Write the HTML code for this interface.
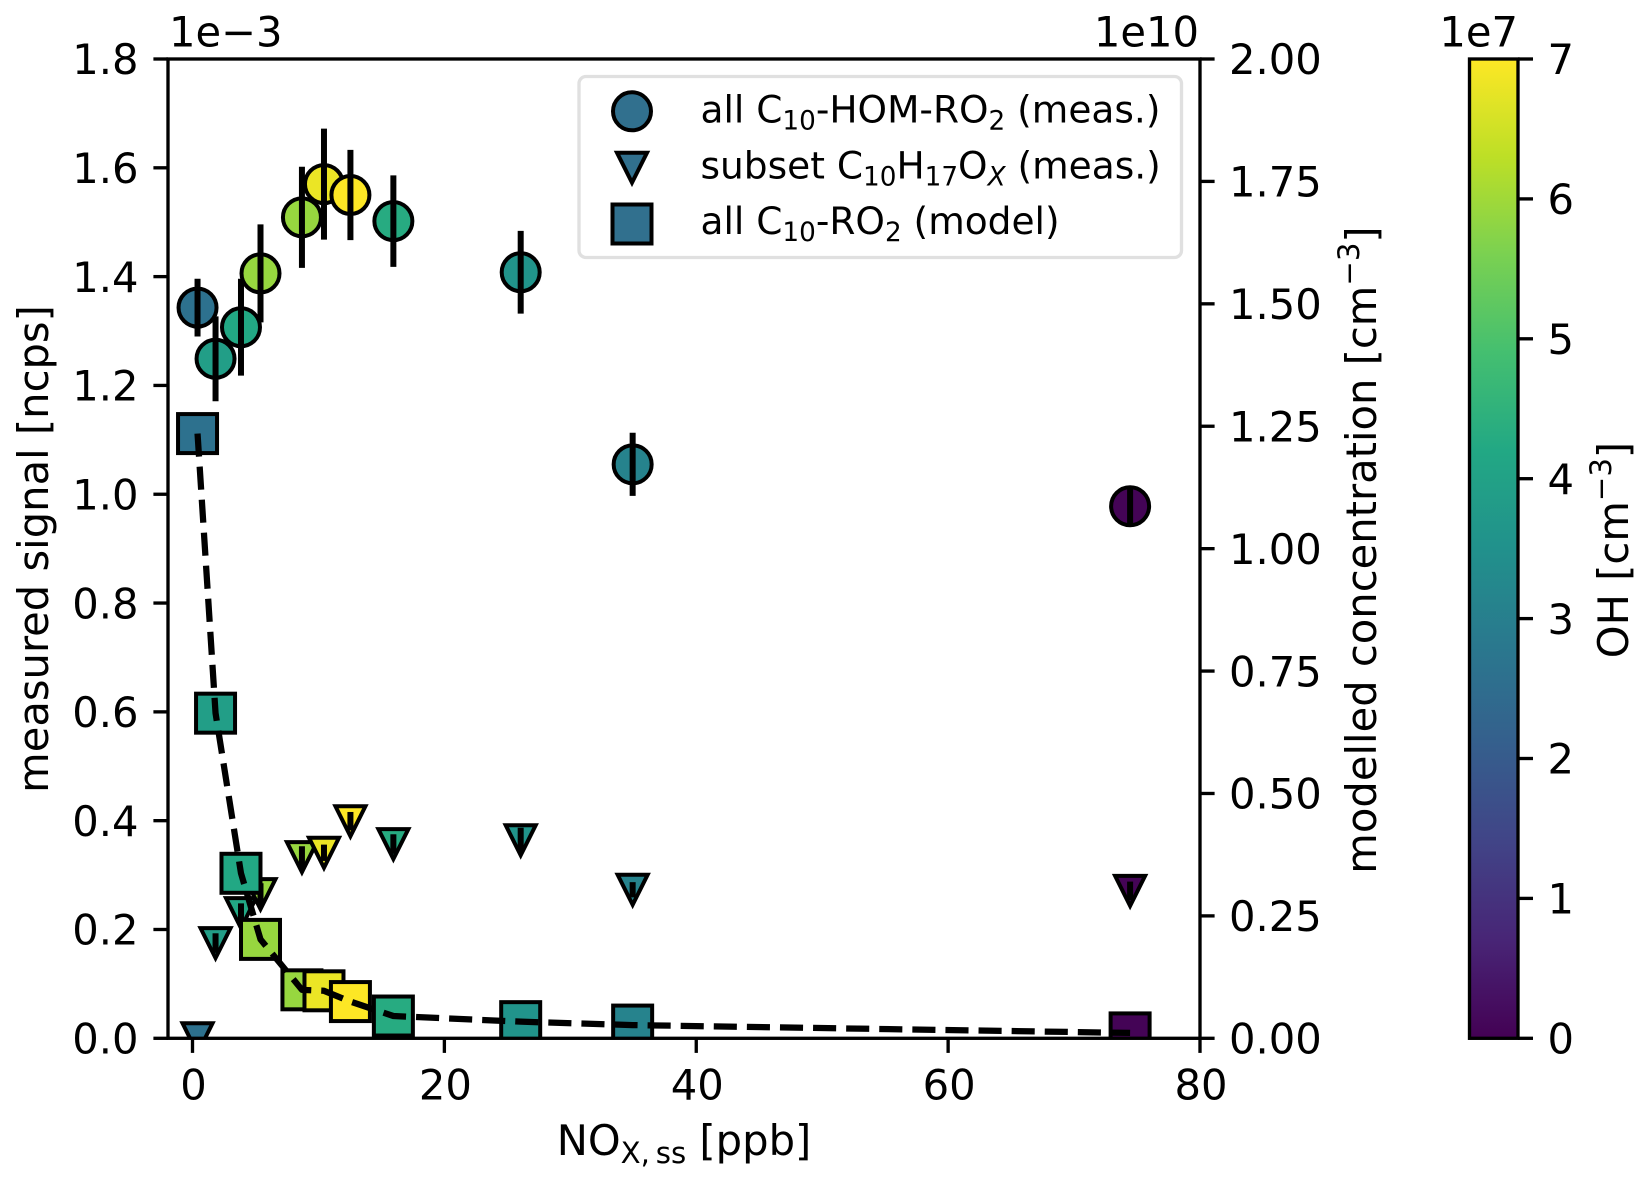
<!DOCTYPE html>
<html lang="en">
<head>
<meta charset="utf-8">
<title>Measured and modelled C10 RO2 versus NOx</title>
<style>
html,body{margin:0;padding:0;background:#fff;}
svg{display:block;}
text{font-family:"DejaVu Sans","Liberation Sans",sans-serif;font-size:41.67px;fill:#000;}
text.legend-text{font-size:37.5px;}
</style>
</head>
<body>
<svg id="chart" xmlns="http://www.w3.org/2000/svg" width="1650" height="1183" viewBox="0 0 1650 1183">
  <defs>
    <clipPath id="plot-clip"><rect x="168" y="59" width="1032" height="979.3"/></clipPath>
    <linearGradient id="viridis-gradient" x1="0" y1="1" x2="0" y2="0">
      <stop offset="0" stop-color="#440154"/><stop offset="0.1" stop-color="#482576"/>
      <stop offset="0.2" stop-color="#414487"/><stop offset="0.3" stop-color="#355f8d"/>
      <stop offset="0.4" stop-color="#2a788e"/><stop offset="0.5" stop-color="#21918c"/>
      <stop offset="0.6" stop-color="#22a884"/><stop offset="0.7" stop-color="#44bf70"/>
      <stop offset="0.8" stop-color="#7ad151"/><stop offset="0.9" stop-color="#bddf26"/>
      <stop offset="1" stop-color="#fde725"/>
    </linearGradient>
  </defs>
  <rect x="0" y="0" width="1650" height="1183" fill="#fff"/>
  <g id="marks" clip-path="url(#plot-clip)"></g>
  <g id="axes"></g>

  <text x="169" y="46.7">1e−3</text>
  <text x="1199" y="46.7" text-anchor="end">1e10</text>
  <text x="1518" y="46.7" text-anchor="end">1e7</text>

  <text transform="translate(48,549) rotate(-90)" text-anchor="middle">measured signal [ncps]</text>
  <text transform="translate(1376,550) rotate(-90)" text-anchor="middle">modelled concentration [cm<tspan dy="-17" font-size="29.2">−3</tspan><tspan dy="17">]</tspan></text>
  <text x="684" y="1155" text-anchor="middle">NO<tspan dy="8" font-size="29.2">X,&#8201;ss</tspan><tspan dy="-8"> [ppb]</tspan></text>
  <text transform="translate(1628,550) rotate(-90)" text-anchor="middle">OH [cm<tspan dy="-17" font-size="29.2">−3</tspan><tspan dy="17">]</tspan></text>

  <g>
    <rect x="579" y="76.5" width="602.5" height="181" rx="7" ry="7" fill="#fff" fill-opacity="0.8" stroke="#e0e0e0" stroke-width="3.33"/>
    <circle cx="632" cy="111.3" r="19" fill="#31708e" stroke="#000" stroke-width="4"/>
    <path d="M617,152.7 L647,152.7 L632,182.7 Z" fill="#31708e" stroke="#000" stroke-width="4"/>
    <rect x="612.5" y="204.5" width="39" height="39" fill="#31708e" stroke="#000" stroke-width="4"/>
    <text class="legend-text" x="700.5" y="122.3">all C<tspan dy="7" font-size="26.25">10</tspan><tspan dy="-7">-HOM-RO</tspan><tspan dy="7" font-size="26.25">2</tspan><tspan dy="-7"> (meas.)</tspan></text>
    <text class="legend-text" x="700.5" y="178.3">subset C<tspan dy="7" font-size="26.25">10</tspan><tspan dy="-7">H</tspan><tspan dy="7" font-size="26.25">17</tspan><tspan dy="-7">O</tspan><tspan dy="7" font-size="26.25" font-style="italic">X</tspan><tspan dy="-7"> (meas.)</tspan></text>
    <text class="legend-text" x="700.5" y="234">all C<tspan dy="7" font-size="26.25">10</tspan><tspan dy="-7">-RO</tspan><tspan dy="7" font-size="26.25">2</tspan><tspan dy="-7"> (model)</tspan></text>
  </g>

  <g>
    <rect x="1469.5" y="59" width="48.5" height="979.3" fill="url(#viridis-gradient)" stroke="#000" stroke-width="3.33"/>
  </g>
  <g id="colorbar-ticks"></g>
</svg>

<script>
// Data
const noxPpb = [0.4, 1.83, 3.85, 5.4, 8.69, 10.44, 12.54, 15.95, 26.06, 34.95, 74.45];
const ohConc = [2.6, 3.9, 4.2, 5.9, 5.9, 6.8, 7.0, 4.3, 3.6, 3.1, 0.05];
const homSignal = [1.343, 1.249, 1.307, 1.406, 1.509, 1.570, 1.550, 1.502, 1.408, 1.055, 0.978];
const homError = [0.053, 0.078, 0.089, 0.090, 0.093, 0.102, 0.083, 0.084, 0.076, 0.058, 0.038];
const subsetSignal = [0.0, 0.175, 0.230, 0.265, 0.333, 0.341, 0.399, 0.357, 0.364, 0.273, 0.271];
const subsetError = [0.0, 0.018, 0.018, 0.020, 0.020, 0.015, 0.017, 0.018, 0.023, 0.014, 0.017];
const modelConc = [1.235, 0.664, 0.337, 0.202, 0.099, 0.097, 0.075, 0.0455, 0.034, 0.027, 0.011];
const homDrawOrder = [0, 1, 2, 3, 5, 4, 6, 7, 8, 9, 10];

const xTicks = [0, 20, 40, 60, 80];
const leftTicks = [0, 0.2, 0.4, 0.6, 0.8, 1.0, 1.2, 1.4, 1.6, 1.8];
const rightTicks = [0, 0.25, 0.5, 0.75, 1.0, 1.25, 1.5, 1.75, 2.0];
const colorbarTicks = [0, 1, 2, 3, 4, 5, 6, 7];
const viridisStops = ['#440154', '#482576', '#414487', '#355f8d', '#2a788e', '#21918c', '#22a884', '#44bf70', '#7ad151', '#bddf26', '#fde725'];

// Axis functions
const PLOT = { left: 168, right: 1200, top: 59, bottom: 1038.3 };
function xScale(v) { return 192.5 + v * (PLOT.right - 192.5) / 80; }
function yLeft(v) { return PLOT.bottom - v * (PLOT.bottom - PLOT.top) / 1.8; }
function yRight(v) { return PLOT.bottom - v * (PLOT.bottom - PLOT.top) / 2.0; }
function yColorbar(v) { return PLOT.bottom - v * (PLOT.bottom - PLOT.top) / 7; }

function viridis(v) {
  const t = Math.max(0, Math.min(1, v / 7)) * (viridisStops.length - 1);
  const i = Math.min(Math.floor(t), viridisStops.length - 2);
  const f = t - i;
  const a = parseInt(viridisStops[i].slice(1), 16);
  const b = parseInt(viridisStops[i + 1].slice(1), 16);
  const mix = function (shift) {
    return Math.round(((a >> shift) & 255) * (1 - f) + ((b >> shift) & 255) * f);
  };
  return 'rgb(' + mix(16) + ',' + mix(8) + ',' + mix(0) + ')';
}

const SVG_NS = 'http://www.w3.org/2000/svg';
function make(tag, attrs, parent) {
  const node = document.createElementNS(SVG_NS, tag);
  Object.keys(attrs).forEach(function (k) { node.setAttribute(k, attrs[k]); });
  parent.appendChild(node);
  return node;
}

const marks = document.getElementById('marks');
const axes = document.getElementById('axes');
const cbAxis = document.getElementById('colorbar-ticks');
const MARK_EDGE = 4;
const ERR_WIDTH = 6;
const CIRCLE_R = 19;
const TRI = 30;
const SQUARE = 39;

// Circle markers
homDrawOrder.forEach(function (i) {
  const el = make('circle', { cx: xScale(noxPpb[i]), cy: yLeft(homSignal[i]), r: CIRCLE_R, fill: viridis(ohConc[i]), stroke: '#000', 'stroke-width': MARK_EDGE }, marks);
  
  
});
// Circle error bars
noxPpb.forEach(function (x, i) {
  const el = make('line', { x1: xScale(x), x2: xScale(x), y1: yLeft(homSignal[i] - homError[i]), y2: yLeft(homSignal[i] + homError[i]), stroke: '#000', 'stroke-width': ERR_WIDTH }, marks);
  
  
});
// Triangle markers
noxPpb.forEach(function (x, i) {
  const cx = xScale(x);
  const cy = yLeft(subsetSignal[i]);
  const d = 'M' + (cx - TRI / 2) + ',' + (cy - TRI / 2) + ' L' + (cx + TRI / 2) + ',' + (cy - TRI / 2) + ' L' + cx + ',' + (cy + TRI / 2) + ' Z';
  const el = make('path', { d: d, fill: viridis(ohConc[i]), stroke: '#000', 'stroke-width': MARK_EDGE }, marks);
  
  
});
// Triangle error bars
noxPpb.forEach(function (x, i) {
  const el = make('line', { x1: xScale(x), x2: xScale(x), y1: yLeft(subsetSignal[i] - subsetError[i]), y2: yLeft(subsetSignal[i] + subsetError[i]), stroke: '#000', 'stroke-width': ERR_WIDTH }, marks);
  
  
});
// Square markers
noxPpb.forEach(function (x, i) {
  const el = make('rect', { x: xScale(x) - SQUARE / 2, y: yRight(modelConc[i]) - SQUARE / 2, width: SQUARE, height: SQUARE, fill: viridis(ohConc[i]), stroke: '#000', 'stroke-width': MARK_EDGE }, marks);
  
  
});
// Dashed model line
const linePoints = noxPpb.map(function (x, i) { return xScale(x) + ',' + yRight(modelConc[i]); }).join(' ');
const modelLine = make('polyline', { points: linePoints, fill: 'none', stroke: '#000', 'stroke-width': 6.25, 'stroke-dasharray': '23.1 10', 'stroke-linejoin': 'round' }, marks);



// Spines
const frame = make('rect', { x: PLOT.left, y: PLOT.top, width: PLOT.right - PLOT.left, height: PLOT.bottom - PLOT.top, fill: 'none', stroke: '#000', 'stroke-width': 3.33 }, axes);



// X ticks
xTicks.forEach(function (v) {
  const tick = make('line', { x1: xScale(v), x2: xScale(v), y1: PLOT.bottom, y2: PLOT.bottom + 14.6, stroke: '#000', 'stroke-width': 3.33 }, axes);
  
  
  const label = make('text', { x: xScale(v) + 1, y: 1099.3, 'text-anchor': 'middle' }, axes);
  
  
  label.textContent = String(v);
});
// Left ticks
leftTicks.forEach(function (v) {
  const tick = make('line', { x1: PLOT.left - 14.6, x2: PLOT.left, y1: yLeft(v), y2: yLeft(v), stroke: '#000', 'stroke-width': 3.33 }, axes);
  
  
  const label = make('text', { x: 138.5, y: yLeft(v) + 15.2, 'text-anchor': 'end' }, axes);
  
  
  label.textContent = v.toFixed(1);
});
// Right ticks
rightTicks.forEach(function (v) {
  const tick = make('line', { x1: PLOT.right, x2: PLOT.right + 14.6, y1: yRight(v), y2: yRight(v), stroke: '#000', 'stroke-width': 3.33 }, axes);
  
  
  const label = make('text', { x: 1229, y: yRight(v) + 15.2 }, axes);
  
  
  label.textContent = v.toFixed(2);
});
// Colorbar ticks
colorbarTicks.forEach(function (v) {
  const tick = make('line', { x1: 1518, x2: 1533, y1: yColorbar(v), y2: yColorbar(v), stroke: '#000', 'stroke-width': 3.33 }, cbAxis);
  
  
  const label = make('text', { x: 1547.5, y: yColorbar(v) + 15.2 }, cbAxis);
  
  
  label.textContent = String(v);
});
</script>
</body>
</html>
